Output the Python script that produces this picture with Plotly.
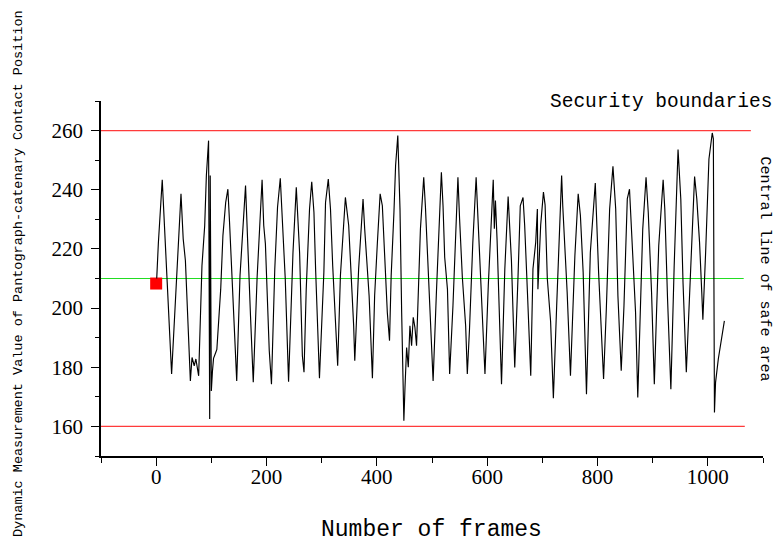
import plotly.graph_objects as go

# ---- data ----
frames = [1, 4, 11, 14, 20, 28, 37, 45, 49, 53, 62, 65, 69, 72, 77, 83, 88, 91, 95, 97, 98, 100,
          102, 104, 108, 110, 117, 121, 126, 130, 133, 136, 146, 152, 162,
          171, 176, 183, 192, 195, 198, 205, 209, 215, 220, 225, 230, 234, 240, 248, 254, 260, 265,
          268, 272, 278, 282, 286, 289, 296, 304, 307, 312, 316, 320, 329, 334, 338,
          343, 349, 352, 355, 358, 360, 367, 370, 375, 378, 382, 386, 392, 396, 401, 406, 410, 414,
          419, 423, 426, 431, 434, 438, 442, 445, 448, 449, 451, 454, 457, 460, 463, 466, 469, 472,
          479, 485, 488, 492, 502, 508, 512,
          517, 520, 523, 528, 532, 538, 543, 547, 550, 555, 561, 564, 568, 574, 580, 584, 588, 596,
          602, 606, 611, 613, 615, 618, 623, 626, 632, 638, 644, 647, 650, 656, 660, 665, 668, 673,
          679, 683, 688,
          691, 692, 697, 702, 705, 709, 715, 720, 726, 730, 735, 737, 745, 751, 759, 765, 769, 774,
          780, 787, 791, 796, 802, 811, 816, 822, 828, 833, 837, 843, 848, 854,
          858, 863, 869, 873, 878, 882, 888, 892, 898, 903, 907, 911, 919, 922, 927, 933, 939, 945,
          946, 951, 955, 961, 969, 976, 980, 985, 989, 991, 996, 1002, 1008, 1010, 1012, 1014, 1019,
          1023, 1026, 1030]
values = [210, 222, 243.4, 232.9, 208.7, 177.7, 208.7, 238.6, 223.4, 216, 175.4, 183.3, 180.5, 182.8,
          177.1, 214.3, 227.9, 244.8, 256.6, 162.5, 244.8, 172,
          178.6, 183, 185, 186, 206.4, 224.5, 235.7, 240.2, 229, 216.6, 175.4, 211, 241.4,
          197.4, 174.9, 210.4, 243.4, 227.9, 221.7, 185.6, 174.3, 213.2, 234.1, 243.9, 221.7, 209.8,
          175.1, 218.8, 240.8, 218.8, 183.9, 178.3, 206.4, 233.5, 242.7, 232.4, 213.2, 176.3, 212.1,
          235.7, 243.6, 233.5, 214.3, 180.5, 211, 222.2,
          237.4, 227.9, 214.3, 205.3, 194, 182.2, 213.2, 222.2, 236.9, 226.7, 215.4, 204.2, 176.3,
          204.2, 222.2, 238.6, 234.6, 219.4, 198.5, 189, 211, 232.4, 248.2, 258.3, 233.5, 198.5,
          174.9, 161.9, 173, 186.7, 180, 194, 187.3, 196.9, 193.5, 187.3,
          226.7, 244.2, 234.6, 216.6, 175.4, 205.3, 223.4,
          245.9, 234.6, 217.2, 206.4, 177.7, 200.8, 223.4, 244.2, 230.2, 210.4, 194, 177.7, 192.9,
          222.2, 244.2, 226.1, 210, 177.7, 207.5, 226.1, 243.4, 226.8, 236.4, 222.8, 191.8, 174.3,
          213.2, 237.7, 216, 200.8, 179.9, 211, 234.6, 237.4, 227.9, 205.3, 177.1, 213.2, 222.2,
          233.5, 206.4, 228.1, 239.2, 234.9, 210, 195.4, 169.5, 200.8, 223.4, 244.8, 234.6, 205.3,
          177.1, 217.7, 238.6, 231.3, 212.1, 170.9, 218.8, 228.1, 242.3, 212.1, 176, 199.7, 233.5,
          247.9, 233.5, 204.2, 178.8, 200.8, 236.9,
          240.2, 218.8, 198.5, 169.8, 203, 226.7, 244.2, 232.4, 205.3, 174.3, 198.5, 221.1, 243.4,
          233.5, 203, 172.6, 214.3, 245.9, 253.6, 236.9, 208.7, 178.3, 215.4, 244.5, 236.9, 222.2,
          205.3, 196.1, 218.8, 250.4, 259.2, 257.2, 164.7, 174.9, 182.8, 187.3, 191.8, 195.7]

upper_bound = 260
lower_bound = 160
center_line = 210
upper_x = [-100, 1078]
lower_x = [-100, 1067]
center_x = [-100, 1065]
start_frame = [0]
start_value = [208.3]

x_ticks = [0, 200, 400, 600, 800, 1000]
y_ticks = [160, 180, 200, 220, 240, 260]

x_title = "Number of frames"
y_title = "Dynamic Measurement Value of Pantograph-catenary Contact Position"
boundary_label = "Security boundaries"
center_label = "Central line of safe area"

fig = go.Figure()
fig.add_trace(go.Scatter(x=upper_x, y=[upper_bound] * 2, mode="lines",
                         line=dict(color="#ff3b3b", width=1.2), hoverinfo="skip"))
fig.add_trace(go.Scatter(x=lower_x, y=[lower_bound] * 2, mode="lines",
                         line=dict(color="#ff3b3b", width=1.2), hoverinfo="skip"))
fig.add_trace(go.Scatter(x=center_x, y=[center_line] * 2, mode="lines",
                         line=dict(color="#22dd22", width=1.2), hoverinfo="skip"))
fig.add_trace(go.Scatter(x=start_frame, y=start_value, mode="markers",
                         marker=dict(symbol="square", size=12, color="#ff0000",
                                     line=dict(width=0))))
fig.add_trace(go.Scatter(x=frames, y=values, mode="lines",
                         line=dict(color="black", width=1.15)))

tick_font = dict(family="Liberation Serif", size=21, color="black")
mono = "Liberation Mono"

L, R, T, B = 101, 14, 101, 90
W, H = 777, 546
pw, ph = W - L - R, H - T - B


def px_to_paper_x(px):
    return (px - L) / pw


def px_to_paper_y(py):
    return (H - B - py) / ph


fig.update_layout(
    width=W, height=H,
    margin=dict(l=L, r=R, t=T, b=B, autoexpand=False),
    paper_bgcolor="white", plot_bgcolor="white",
    showlegend=False,
    xaxis=dict(range=[-100, 1100], tickvals=x_ticks, ticks="outside", ticklen=8, tickwidth=1.3,
               tickcolor="black", showline=True, linecolor="black", linewidth=1.5,
               showgrid=False, zeroline=False, tickfont=tick_font, automargin=False,
               ticklabelstandoff=-7,
               minor=dict(dtick=100, tick0=-100, ticks="outside", ticklen=5, tickwidth=1.3,
                          tickcolor="black", showgrid=False)),
    yaxis=dict(range=[150, 270], tickvals=y_ticks, ticks="outside", ticklen=8, tickwidth=1.3,
               tickcolor="black", showline=True, linecolor="black", linewidth=1.5,
               showgrid=False, zeroline=False, tickfont=tick_font, automargin=False,
               ticklabelstandoff=4,
               minor=dict(dtick=10, tick0=150, ticks="outside", ticklen=4, tickwidth=1.3,
                          tickcolor="black", showgrid=False)),
    annotations=[
        dict(text=x_title, xref="paper", yref="paper", x=px_to_paper_x(431),
             y=px_to_paper_y(530), xanchor="center", yanchor="middle", showarrow=False,
             font=dict(family=mono, size=23, color="black")),
        dict(text=y_title, xref="paper", yref="paper", x=px_to_paper_x(18),
             y=px_to_paper_y(274), xanchor="center", yanchor="middle", showarrow=False,
             textangle=-90, font=dict(family=mono, size=13.5, color="black")),
        dict(text=boundary_label, xref="paper", yref="paper", x=px_to_paper_x(774),
             y=px_to_paper_y(102), xanchor="right", yanchor="middle", showarrow=False,
             font=dict(family=mono, size=19.5, color="black")),
        dict(text=center_label, xref="paper", yref="paper", x=px_to_paper_x(764),
             y=px_to_paper_y(268.5), xanchor="center", yanchor="middle", showarrow=False,
             textangle=90, font=dict(family=mono, size=15, color="black")),
    ],
)

fig.write_html("out.html", config={"displayModeBar": False},
               post_script="document.body.style.margin='0px';")
